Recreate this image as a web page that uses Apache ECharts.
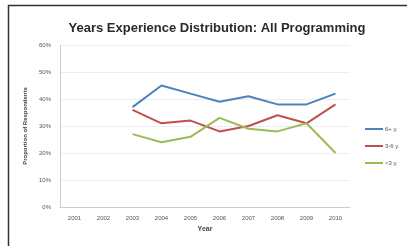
<!DOCTYPE html>
<html>
<head>
<meta charset="utf-8">
<script src="https://cdn.jsdelivr.net/npm/echarts@6/dist/echarts.min.js"></script>
<style>
  html, body { margin: 0; padding: 0; background: #fff; }
  #chart { width: 407px; height: 246px; }
</style>
</head>
<body>
<div id="chart"></div>
<script>
const years = ["2001", "2002", "2003", "2004", "2005", "2006", "2007", "2008", "2009", "2010"];
const yTicks = [0, 10, 20, 30, 40, 50, 60];
// percentages, no data for 2001-2002
const sixPlus = [null, null, 37, 45, 42, 39, 41, 38, 38, 42];
const threeToSix = [null, null, 36, 31, 32, 28, 30, 34, 31, 38];
const underThree = [null, null, 27, 24, 26, 33, 29, 28, 31, 20];

const chart = echarts.init(document.getElementById("chart"));

const font = "'Liberation Sans', Arial, sans-serif";

function lineSeries(name, data, color) {
  return {
    name: name,
    type: "line",
    data: data,
    symbol: "none",
    lineStyle: { width: 2, color: color },
    itemStyle: { color: color },
  };
}

chart.setOption({
  animation: false,
  textStyle: { fontFamily: font },
  title: {
    text: "Years Experience Distribution: All Programming",
    left: 212,
    top: 17,
    textAlign: "center",
    textStyle: { fontSize: 13, fontWeight: "bold", color: "#2a2a2a", fontFamily: font },
  },
  grid: { left: 60, right: 57, top: 45, bottom: 39 },
  legend: {
    orient: "vertical",
    left: 360,
    top: 121,
    itemWidth: 18,
    itemHeight: 2,
    itemGap: 11,
    icon: "rect",
    textStyle: { fontSize: 6, color: "#555", padding: [0, 0, 0, -3] },
    data: ["6+ y.", "3-6 y.", "<3 y."],
  },
  xAxis: {
    type: "category",
    data: years,
    boundaryGap: true,
    name: "Year",
    nameLocation: "middle",
    nameGap: 17,
    nameTextStyle: { fontSize: 7, fontWeight: "bold", color: "#444" },
    axisLine: { lineStyle: { color: "#d8c8c8" } },
    axisTick: { show: false },
    axisLabel: { fontSize: 6, color: "#555", margin: 8 },
  },
  yAxis: {
    type: "value",
    min: yTicks[0],
    max: yTicks[yTicks.length - 1],
    interval: 10,
    name: "Proportion of Respondents",
    nameLocation: "middle",
    nameGap: 32,
    nameTextStyle: { fontSize: 6, fontWeight: "bold", color: "#444" },
    axisLine: { show: true, lineStyle: { color: "#d8c8c8" } },
    axisTick: { show: false },
    axisLabel: { fontSize: 6, color: "#555", formatter: "{value}%", margin: 9 },
    splitLine: { lineStyle: { color: "#eeeeee" } },
  },
  graphic: [
    // frame: only top and left edges are visible in the crop
    {
      type: "polyline",
      shape: { points: [[8.5, 246], [8.5, 5.5], [407, 5.5]] },
      style: { fill: null, stroke: "#333", lineWidth: 1.5 },
      silent: true,
    },
  ],
  series: [
    lineSeries("6+ y.", sixPlus, "#4f81bd"),
    lineSeries("3-6 y.", threeToSix, "#c0504d"),
    lineSeries("<3 y.", underThree, "#9bbb59"),
  ],
});
</script>
</body>
</html>
